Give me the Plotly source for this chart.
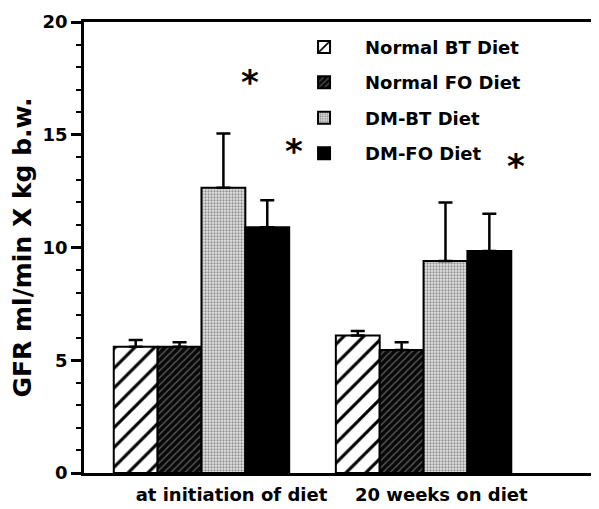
import plotly.graph_objects as go

groups = ["at initiation of diet", "20 weeks on diet"]
series = ["Normal BT Diet", "Normal FO Diet", "DM-BT Diet", "DM-FO Diet"]
means = {
    "Normal BT Diet": [5.6, 6.1],
    "Normal FO Diet": [5.6, 5.45],
    "DM-BT Diet": [12.65, 9.4],
    "DM-FO Diet": [10.9, 9.85],
}
upper = {
    "Normal BT Diet": [5.9, 6.3],
    "Normal FO Diet": [5.8, 5.8],
    "DM-BT Diet": [15.05, 12.0],
    "DM-FO Diet": [12.1, 11.5],
}
# group labels sit slightly right of the group centres in the original
label_pos = [0.135, 1.08]
# significance markers: (group index, series index, y value)
stars_group = [0, 0, 1]
stars_series = [2, 3, 3]
stars_y = [17.35, 14.3, 13.6]

patterns = {
    "Normal BT Diet": dict(shape="/", bgcolor="white", fgcolor="black", size=14, solidity=0.22, fgopacity=1),
    "Normal FO Diet": dict(shape="/", bgcolor="#080808", fgcolor="#5a5a5a", size=5, solidity=0.28, fgopacity=1),
    "DM-BT Diet": dict(shape=".", bgcolor="#e6e6e6", fgcolor="#909090", size=3, solidity=0.45, fgopacity=1),
    "DM-FO Diet": dict(shape="", bgcolor="black", fgcolor="black"),
}
colors = {"Normal BT Diet": "white", "Normal FO Diet": "#080808", "DM-BT Diet": "#e0e0e0", "DM-FO Diet": "black"}

FONT = "DejaVu Sans, Liberation Sans, Arial, sans-serif"
xpos = list(range(len(groups)))
fig = go.Figure()
for i, s in enumerate(series):
    fig.add_trace(go.Bar(
        x=xpos, y=means[s], name=s, legendgroup=s,
        marker=dict(color=colors[s], pattern=patterns[s], line=dict(color="black", width=2)),
        error_y=dict(type="data", symmetric=False,
                     array=[u - m for u, m in zip(upper[s], means[s])],
                     arrayminus=[0] * len(groups),
                     color="black", thickness=2.5, width=7),
    ))

bw = 0.79 / len(series)
for g, si, yv in zip(stars_group, stars_series, stars_y):
    xc = g - 0.79 / 2 + bw * (si + 0.5) + 0.12
    fig.add_annotation(x=xc, y=yv, text="*", showarrow=False,
                       font=dict(family=FONT, size=34, color="black", weight="bold"))

# the page body adds an 8px offset, so the figure is sized to fit the 599x509 window
fig.update_layout(
    width=591, height=501,
    margin=dict(l=76, r=2, t=14, b=36),
    plot_bgcolor="white", paper_bgcolor="white",
    barmode="group", bargap=0.21, bargroupgap=0,
    font=dict(family=FONT, color="black", size=16, weight="bold"),
    showlegend=True,
    legend=dict(x=0.388, y=0.985, xanchor="left", yanchor="top",
                bgcolor="rgba(0,0,0,0)", tracegroupgap=9, itemwidth=72,
                font=dict(family=FONT, size=18, color="black", weight="bold")),
)
fig.update_xaxes(
    range=[-0.529, 1.781], tickvals=label_pos, ticktext=groups,
    showline=True, linecolor="black", linewidth=2.5, mirror=True,
    ticks="", showgrid=False, zeroline=False, automargin=False,
    tickfont=dict(family=FONT, size=18, weight="bold"), ticklabelstandoff=4,
)
fig.update_yaxes(
    range=[0, 20], dtick=5, tick0=0,
    showline=True, linecolor="black", linewidth=2.5, mirror=True,
    ticks="outside", ticklen=10, tickwidth=2.5, tickcolor="black",
    minor=dict(dtick=1, ticks="outside", ticklen=5, tickwidth=2, tickcolor="black"),
    showgrid=False, zeroline=False, automargin=False,
    tickfont=dict(family=FONT, size=18, weight="bold"),
    title=dict(text="GFR ml/min X kg b.w.", font=dict(family=FONT, size=25, weight="bold"), standoff=4),
)
fig.write_html("out.html")
